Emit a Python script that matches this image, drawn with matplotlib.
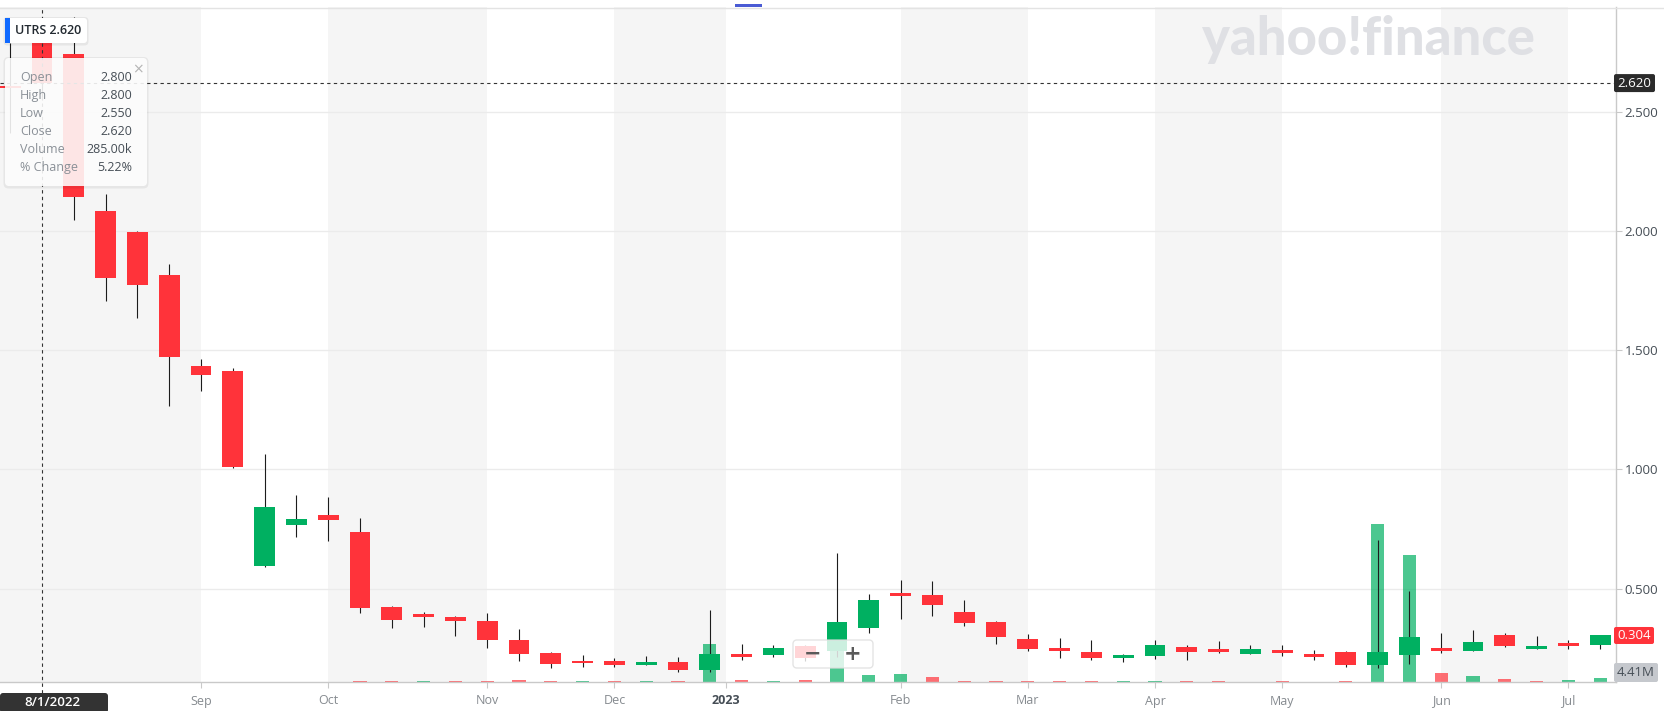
import numpy as np
import pandas as pd
import matplotlib
matplotlib.use('Agg')
import matplotlib.pyplot as plt
from matplotlib.patches import FancyBboxPatch, Rectangle
from matplotlib.lines import Line2D
import matplotlib.transforms as mtransforms

plt.rcParams['font.family'] = ['Open Sans', 'DejaVu Sans']

# ---------------- data (weekly candles) ----------------
dates = pd.date_range('2022-07-25', periods=51, freq='W-MON')
opens = [2.608, 2.800, 2.742, 2.084, 1.996, 1.816, 1.434, 1.412, 0.595, 0.769,
         0.809, 0.738, 0.424, 0.394, 0.382, 0.365, 0.285, 0.231, 0.197, 0.197,
         0.182, 0.193, 0.161, 0.226, 0.223, 0.260, 0.240, 0.337, 0.482, 0.474,
         0.403, 0.361, 0.289, 0.253, 0.235, 0.211, 0.219, 0.256, 0.247, 0.228,
         0.243, 0.226, 0.235, 0.182, 0.224, 0.252, 0.240, 0.306, 0.249, 0.271,
         0.265]
highs = [2.788, 2.800, 2.897, 2.155, 2.000, 1.862, 1.465, 1.426, 1.064, 0.894,
         0.885, 0.797, 0.428, 0.403, 0.386, 0.398, 0.331, 0.236, 0.222, 0.210,
         0.218, 0.214, 0.411, 0.268, 0.264, 0.265, 0.650, 0.477, 0.535, 0.532,
         0.453, 0.365, 0.310, 0.294, 0.285, 0.228, 0.285, 0.265, 0.281, 0.265,
         0.265, 0.243, 0.239, 0.704, 0.491, 0.313, 0.326, 0.313, 0.302, 0.285,
         0.305]
lows = [2.411, 2.550, 2.046, 1.706, 1.635, 1.266, 1.327, 1.008, 0.593, 0.716,
        0.702, 0.398, 0.335, 0.341, 0.303, 0.253, 0.198, 0.166, 0.171, 0.173,
        0.182, 0.152, 0.152, 0.203, 0.213, 0.197, 0.215, 0.313, 0.372, 0.387,
        0.344, 0.267, 0.240, 0.211, 0.201, 0.194, 0.207, 0.201, 0.232, 0.228,
        0.219, 0.203, 0.173, 0.169, 0.186, 0.232, 0.240, 0.254, 0.249, 0.246,
        0.246]
closes = [2.600, 2.620, 2.143, 1.803, 1.774, 1.470, 1.398, 1.010, 0.841, 0.792,
          0.787, 0.421, 0.370, 0.383, 0.366, 0.286, 0.228, 0.186, 0.187, 0.182,
          0.193, 0.161, 0.226, 0.215, 0.252, 0.211, 0.361, 0.453, 0.471, 0.433,
          0.358, 0.296, 0.247, 0.240, 0.210, 0.224, 0.266, 0.236, 0.235, 0.247,
          0.232, 0.215, 0.182, 0.235, 0.298, 0.240, 0.277, 0.261, 0.260, 0.261,
          0.304]
volumes_m = [0.3, 0.285, 0.5, 0.3, 0.3, 0.4, 0.3, 0.4, 0.5, 0.3,
             0.3, 0.6, 1.0, 0.7, 0.6, 0.9, 2.4, 1.3, 1.3, 1.0,
             1.0, 1.3, 39.4, 2.4, 1.3, 2.4, 60.5, 7.5, 8.5, 5.5,
             1.0, 1.3, 0.8, 0.7, 0.7, 0.6, 0.7, 0.7, 0.6, 0.4,
             0.6, 0.4, 0.8, 162.4, 131.1, 9.6, 6.5, 3.1, 1.5, 2.4,
             4.41]
month_labels = ['Sep', 'Oct', 'Nov', 'Dec', '2023', 'Feb', 'Mar', 'Apr', 'May', 'Jun', 'Jul']
month_pos = [6, 10, 15, 19, 22.5, 28, 32, 36, 40, 45, 49]
price_ticks = [0.5, 1.0, 1.5, 2.0, 2.5]
ticker = 'UTRS'
hover_idx = 1
hover_pct_change = 5.22

# ---------------- figure / layout ----------------
W, H = 1665, 711
fig = plt.figure(figsize=(W / 100, H / 100), dpi=100)
fig.patch.set_facecolor('white')
ID = mtransforms.IdentityTransform()


def P(x, y):
    return (x, H - y)


rect = [0, 1 - 682 / H, 1616 / W, (682 - 7) / H]
ax_vol = fig.add_axes(rect, zorder=1)
ax = fig.add_axes(rect, zorder=2, sharex=ax_vol)
ax.patch.set_visible(False)

x = np.arange(len(dates))
xlim = (-0.3208, 50.497)
ax_vol.set_xlim(*xlim)
ax.set_ylim(0.109, 2.939)
ax_vol.set_ylim(0, 695)
ax_vol.set_axis_off()

# month shading
bounds = [xlim[0]] + month_pos + [xlim[1]]
for k in range(len(bounds) - 1):
    if k % 2 == 0:
        ax_vol.axvspan(bounds[k], bounds[k + 1], color='#f5f5f5', lw=0, zorder=0)

# price gridlines (below volume bars)
gt = mtransforms.blended_transform_factory(ax_vol.transAxes, ax.transData)
for p in price_ticks:
    ax_vol.add_line(Line2D([0, 1], [p, p], transform=gt, color='#ebebeb', lw=1, zorder=1))

GREEN = '#00b061'
RED = '#ff333a'

# volume bars
c_arr = np.array(closes)
vol_up = np.r_[False, c_arr[1:] >= c_arr[:-1]]
vcolors = [GREEN if u else RED for u in vol_up]
ax_vol.bar(x, volumes_m, width=0.41, color=vcolors, alpha=0.7, lw=0, zorder=2)

# candles
o_arr = np.array(opens)
up = c_arr >= o_arr
ccolors = [GREEN if u else RED for u in up]
body_bottom = np.minimum(o_arr, c_arr)
body_h = np.maximum(np.abs(c_arr - o_arr), 0.0045)
ax.vlines(x, lows, highs, colors='#1c1c1c', lw=0.8, zorder=3)
ax.bar(x, body_h, bottom=body_bottom, width=0.66, color=ccolors, lw=0, zorder=4)

# axes styling
ax.yaxis.tick_right()
ax.set_yticks(price_ticks)
ax.set_yticklabels([f'{v:.3f}' for v in price_ticks])
ax.tick_params(axis='y', right=True, left=False, length=4, color='#c9c9c9',
               labelsize=9.5, labelcolor='#464e56', pad=2)
ax.set_xticks(month_pos)
ax.set_xticklabels(month_labels)
ax.tick_params(axis='x', length=4, color='#c9c9c9', labelsize=9,
               labelcolor='#868b90', pad=5)
for lab in ax.get_xticklabels():
    if lab.get_text().isdigit():
        lab.set_fontweight('bold')
        lab.set_color('#464e56')
for s in ['left', 'top']:
    ax.spines[s].set_visible(False)
for s in ['right', 'bottom']:
    ax.spines[s].set_color('#c9c9c9')
    ax.spines[s].set_linewidth(1)

# crosshair
hv_close = closes[hover_idx]
ax.axhline(hv_close, color='#333333', lw=0.8, ls=(0, (3, 3)), zorder=5)
bt = mtransforms.blended_transform_factory(ax.transData, fig.transFigure)
fig.add_artist(Line2D([x[hover_idx], x[hover_idx]], [1 - 693 / H, 1 - 7 / H],
                      transform=bt, color='#333333', lw=0.8, ls=(0, (3, 3)), zorder=10))

# top line + blue marker
fig.add_artist(Line2D([0, W], [H - 7.5, H - 7.5], transform=ID, color='#e3e3e3', lw=1, zorder=10))
fig.add_artist(Rectangle(P(735, 7), 27, 3, transform=ID, color='#4a5bd4', lw=0, zorder=10))

# watermark
wm = fig.text(1202, H - 55, 'yahoo!finance', transform=ID, fontsize=36,
              family=['Lato', 'DejaVu Sans'], fontweight=900, color='#dfe0e4',
              ha='left', va='baseline', zorder=9)
r = fig.canvas.get_renderer()
wext = wm.get_window_extent(renderer=r)
wm.set_fontsize(36 * 333 / wext.width)


def box(x0, y0, x1, y1, fc, rs=3, alpha=1.0, ec='none', z=11, shadow=False):
    if shadow:
        fig.add_artist(FancyBboxPatch(P(x0 - 1.5, y1 + 2.5), x1 - x0 + 3, y1 - y0 + 3.5,
                                      boxstyle=f'round,pad=0,rounding_size={rs + 1}',
                                      transform=ID, fc='black', ec='none', alpha=0.06, zorder=z))
    fig.add_artist(FancyBboxPatch(P(x0, y1), x1 - x0, y1 - y0,
                                  boxstyle=f'round,pad=0,rounding_size={rs}',
                                  transform=ID, fc=fc, ec=ec, alpha=alpha, lw=1, zorder=z + 0.1))


def T(xp, yp, s, z=12, **kw):
    return fig.text(xp, H - yp, s, transform=ID, zorder=z, **kw)


# tooltip
box(5, 58, 147, 186, 'white', rs=4, alpha=0.88, shadow=True)
vol_k = volumes_m[hover_idx] * 1000
rows = [('Open', f'{opens[hover_idx]:.3f}'), ('High', f'{highs[hover_idx]:.3f}'),
        ('Low', f'{lows[hover_idx]:.3f}'), ('Close', f'{closes[hover_idx]:.3f}'),
        ('Volume', f'{vol_k:.2f}k'), ('% Change', f'{hover_pct_change:.2f}%')]
for k, (lab, val) in enumerate(rows):
    yy = 77.3 + k * 18
    T(20, yy, lab, fontsize=9, color='#8a9097', ha='left', va='center')
    T(132, yy, val, fontsize=9, color='#464e56', ha='right', va='center')
T(137.5, 69, '×', fontsize=10, color='#b5b5b5', ha='center', va='center',
  family=['DejaVu Sans'])

# ticker label
box(5, 18, 87, 43, 'white', rs=3, shadow=True)
fig.add_artist(Rectangle(P(5, 43), 4.5, 25, transform=ID, color='#0f69ff', lw=0, zorder=11.5))
T(15, 31, f'{ticker} {hv_close:.3f}', fontsize=9, fontweight='semibold',
  color='#232a31', ha='left', va='center')


def ypix(val):
    return H - ax.transData.transform((0, val))[1]


# right-side value labels
yc = ypix(hv_close)
box(1614, yc - 9, 1655, yc + 9, '#2b2b2b', rs=2)
T(1634.5, yc, f'{hv_close:.3f}', fontsize=9.5, color='white', ha='center', va='center')
yl = ypix(closes[-1])
box(1614, yl - 8.5, 1654, yl + 8.5, RED, rs=2)
T(1634, yl, f'{closes[-1]:.3f}', fontsize=9.5, color='white', ha='center', va='center')
box(1614, 663, 1658, 682, '#c5c8cd', rs=2)
T(1636, 672.5, f'{volumes_m[-1]:.2f}M', fontsize=9.5, color='#464e56', ha='center', va='center')

# hovered date label
d = dates[hover_idx]
box(0, 693, 108, 713, '#333333', rs=3)
T(52, 702.5, f'{d.month}/{d.day}/{d.year}', fontsize=9.5, fontweight='semibold',
  color='white', ha='center', va='center')

# zoom control
box(793, 640, 873, 668, 'white', rs=4, alpha=0.8, ec='#dddddd', z=11)
T(813, 654, '−', fontsize=15, fontweight='bold', color='#5a5a5a', ha='center', va='center',
  family=['DejaVu Sans'])
T(853, 654, '+', fontsize=15, fontweight='bold', color='#5a5a5a', ha='center', va='center',
  family=['DejaVu Sans'])

fig.savefig('out.png', dpi=100)
